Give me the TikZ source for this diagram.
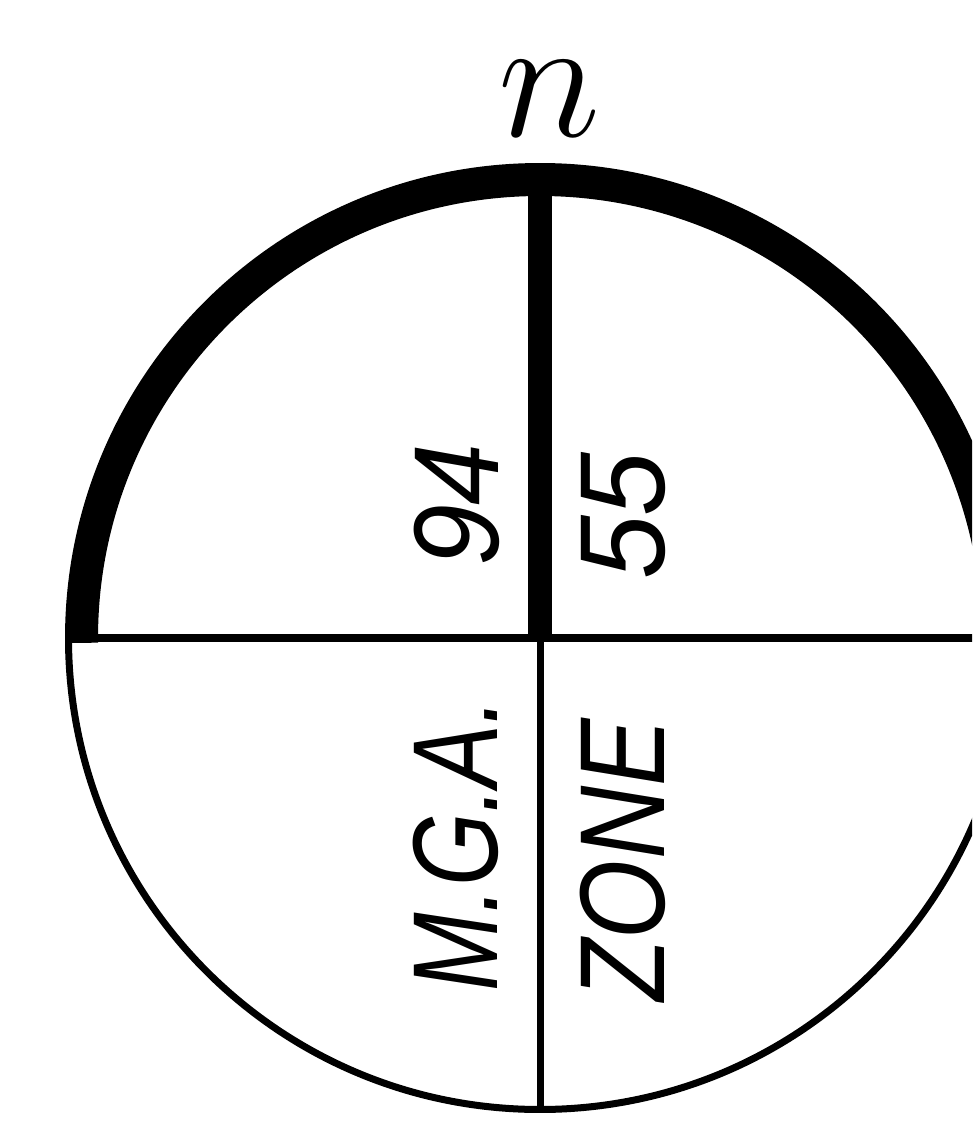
\documentclass[tikz,border=0pt]{standalone}
\usepackage{fontspec}
\newfontfamily\lblfont{Liberation Sans}
\begin{document}
\begin{tikzpicture}
\tikzset{
  thinline/.style={line width=0.07cm, black},
  thickarc/.style={line width=0.33cm, black},
  thickbar/.style={line width=0.24cm, black},
  lbl/.style={rotate=90, inner sep=0pt, font=\lblfont\itshape\fontsize{34.4}{40}\selectfont},
}
\useasboundingbox (0,0) rectangle (9.72,11.26);
\clip (0,0) rectangle (9.72,11.26);
\coordinate (C) at (5.40,4.88);
\coordinate (T) at (5.40,9.45);
\coordinate (B) at (5.40,0.17);
\coordinate (HL) at (0.75,4.88);
\coordinate (HR) at (10.3,4.88);
% circle
\draw[thinline] (C) ++(180:4.715) arc[start angle=180, end angle=360, radius=4.715];
\draw[thickarc] (C) ++(180.6:4.585) arc[start angle=180.6, end angle=-0.6, radius=4.585];
% cross lines
\draw[thinline, line width=0.08cm] (HL) -- (HR);
\draw[thickbar] (C) -- (T);
\draw[thinline] (C) -- (B);
% labels
\node[lbl] (n94) at (4.57,6.21) {\scalebox{0.92}[1]{94}};
\node[lbl] (n55) at (6.23,6.10) {\scalebox{0.95}[1]{55}};
\node[lbl] (mga) at (4.56,2.81) {\scalebox{0.78}[1]{M.G.A.}};
\node[lbl] (zone) at (6.23,2.66) {\scalebox{0.84}[1]{ZONE}};
\node[inner sep=0pt] (north) at (5.50,10.27) {\scalebox{2}{\fontsize{25}{30}\selectfont $n$}};
\end{tikzpicture}
\end{document}
